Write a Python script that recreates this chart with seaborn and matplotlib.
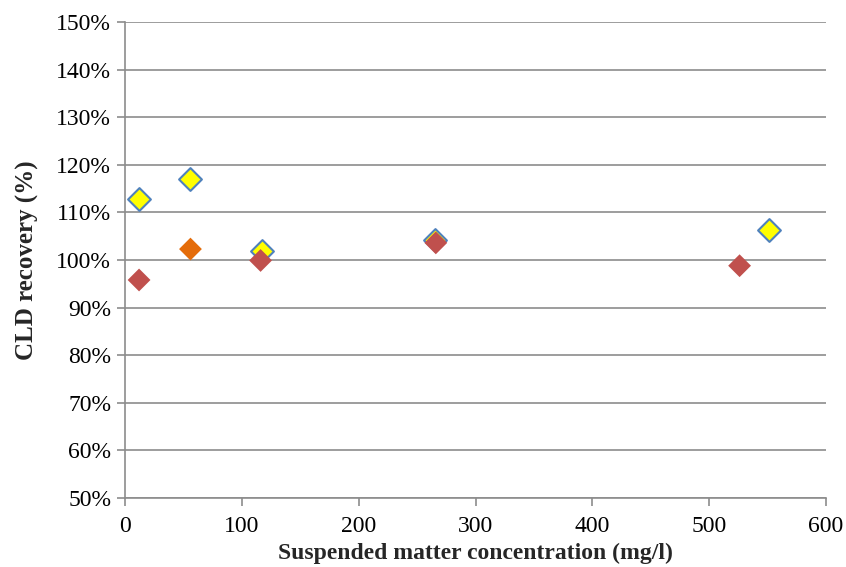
import matplotlib
matplotlib.use("Agg")
import matplotlib.pyplot as plt
import matplotlib.ticker as mticker
import seaborn as sns
import pandas as pd

# series 1 (yellow diamonds)
conc_a = [12, 56, 117, 265, 551]
recovery_a = [112.8, 117.0, 101.9, 104.3, 106.4]

# series 2 (red diamonds), second point drawn in orange
conc_b = [12, 56, 116, 266, 526]
recovery_b = [95.8, 102.3, 99.9, 103.6, 98.8]

sns.set_style("white")
plt.rcParams['font.family'] = ['Liberation Serif', 'DejaVu Serif']

fig = plt.figure(figsize=(8.46, 5.67), dpi=100)
ax = fig.add_axes([0.1478, 0.1217, 0.8286, 0.8395])

data_a = pd.DataFrame({'x': conc_a, 'y': recovery_a})
data_b = pd.DataFrame({'x': conc_b, 'y': recovery_b})
colors_b = ['#C0504D', '#E46C0A', '#C0504D', '#C0504D', '#C0504D']

sns.scatterplot(data=data_a, x='x', y='y', marker='D', s=135, color='#FFFF00',
                edgecolor='#4F81BD', linewidth=1.5, ax=ax, zorder=3)
sns.scatterplot(data=data_b, x='x', y='y', marker='D', s=135, hue=data_b.index,
                palette=colors_b, edgecolor='none', linewidth=0, ax=ax,
                legend=False, zorder=4)

ax.set_xlim(0, 600)
ax.set_ylim(50, 150)
ax.xaxis.set_major_locator(mticker.MultipleLocator(100))
ax.yaxis.set_major_locator(mticker.MultipleLocator(10))
ax.yaxis.set_major_formatter(mticker.FuncFormatter(lambda v, p: f"{v:.0f}%"))

ax.grid(axis='y', color='#8C8C8C', linewidth=1.2)
ax.set_axisbelow(True)
for side in ['top', 'right']:
    ax.spines[side].set_visible(False)
for side in ['left', 'bottom']:
    ax.spines[side].set_color('#8C8C8C')
    ax.spines[side].set_linewidth(1.2)

ax.tick_params(axis='both', direction='out', length=6, width=1.2, color='#8C8C8C',
               labelsize=17, pad=4, bottom=True, left=True, labelcolor='black')
ax.tick_params(axis='x', pad=7)

ax.set_xlabel('Suspended matter concentration (mg/l)', fontsize=17, fontweight='bold', labelpad=4)
ax.set_ylabel('CLD recovery (%)', fontsize=18, fontweight='bold', labelpad=12)

fig.savefig('out.png', dpi=100)
